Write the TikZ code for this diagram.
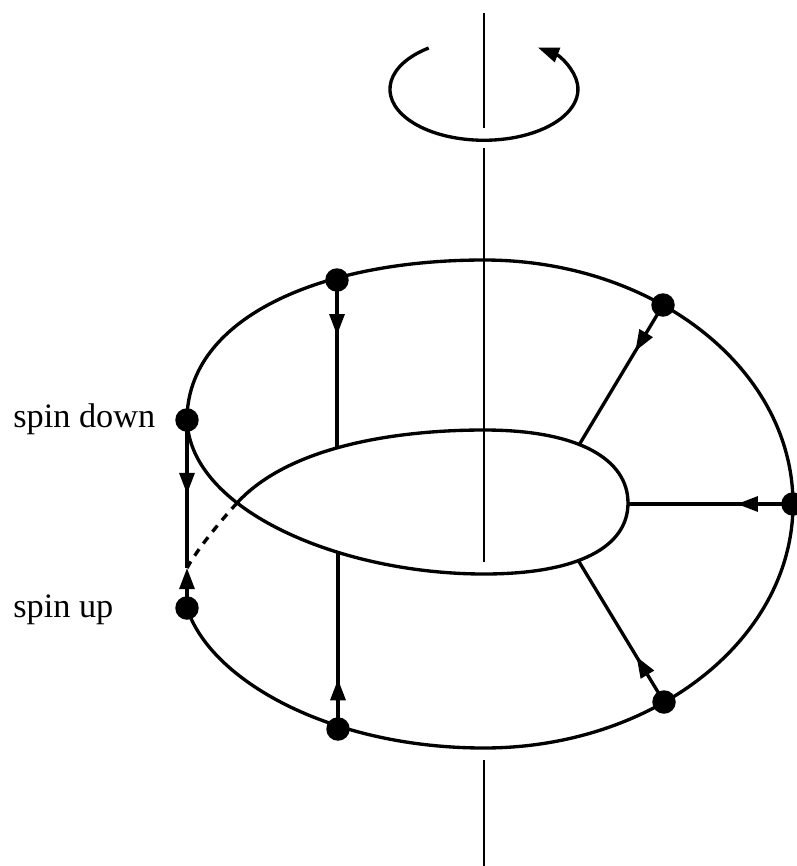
\documentclass[tikz,border=0pt]{standalone}
\usepackage{fontspec}
\setmainfont{Liberation Serif}
\usetikzlibrary{arrows.meta,decorations.markings}
\begin{document}
\begin{tikzpicture}[x=0.02cm,y=-0.02cm,
  curve/.style={line width=1.9pt},
  axisline/.style={line width=1.7pt},
  spot/.style={circle,fill=black,inner sep=0pt,minimum size=0.47cm},
  tri/.tip={Triangle[length=12pt,width=8.5pt]},
  spoke/.style={line width=1.9pt,postaction={decorate},
    decoration={markings,mark=at position #1 with {\arrow{tri}}}},
  spintext/.style={anchor=base west,inner sep=0pt,font=\fontsize{19.5}{23}\selectfont}]
\useasboundingbox (0,0) rectangle (797,866);
% axis of rotation
\coordinate (ax1) at (484,13);
\coordinate (ax2) at (484,128);
\coordinate (ax3) at (484,148);
\coordinate (ax4) at (484,562);
\coordinate (ax5) at (484,760);
\coordinate (ax6) at (484,866);
\draw[axisline] (ax1) -- (ax2);
\draw[axisline] (ax3) -- (ax4);
\draw[axisline] (ax5) -- (ax6);
% rotation arrow
\coordinate (rs) at (428.7,48);
\draw[curve,-{tri}] (rs) arc[start angle=234,end angle=-55,x radius=94,y radius=51];
% spin points
\node[spot] (sd) at (187,420) {};
\node[spot] (su) at (187,608) {};
\node[spot] (d1) at (337,280) {};
\node[spot] (d2) at (338,729) {};
\node[spot] (d3) at (663,305) {};
\node[spot] (d4) at (793,504) {};
\node[spot] (d5) at (664,702) {};
% outer outline
\coordinate (top) at (484,260);
\coordinate (bot) at (484,748);
\draw[curve] (top) .. controls (320,260) and (187,318) .. (sd.center);
\draw[curve] (top) arc[start angle=-90,end angle=90,x radius=309,y radius=244];
\draw[curve] (su.center) .. controls (210,680) and (330,748) .. (bot);
% inner outline (hole)
\coordinate (itop) at (484,430);
\coordinate (ibot) at (484,574);
\coordinate (iright) at (628,503);
\coordinate (cross) at (237,503);
\coordinate (dend) at (187,568);
\draw[curve] (sd.center) .. controls (190,510) and (340,574) .. (ibot)
  .. controls (580,574) and (628,546) .. (iright)
  .. controls (628,460) and (580,430) .. (itop)
  .. controls (400,430) and (290,445) .. (cross);
\draw[curve,dash pattern=on 4.5pt off 4pt] (cross) .. controls (217,525) and (197,550) .. (dend);
% spokes
\coordinate (e1) at (337,447);
\coordinate (e2) at (338,551);
\coordinate (e3) at (579,445);
\coordinate (e4) at (628,504);
\coordinate (e5) at (578,560);
\draw[spoke=0.33] (d1.center) -- (e1);
\draw[spoke=0.28] (d2.center) -- (e2);
\draw[spoke=0.33] (d3.center) -- (e3);
\draw[spoke=0.34] (d4.center) -- (e4);
\draw[spoke=0.32] (d5.center) -- (e5);
\draw[spoke=0.50] (sd.center) -- (dend);
\draw[curve,-{tri}] (su.center) -- (dend);
% labels
\node[spintext] (t1) at (13,427) {spin down};
\node[spintext] (t2) at (13,617) {spin up};
\end{tikzpicture}
\end{document}
